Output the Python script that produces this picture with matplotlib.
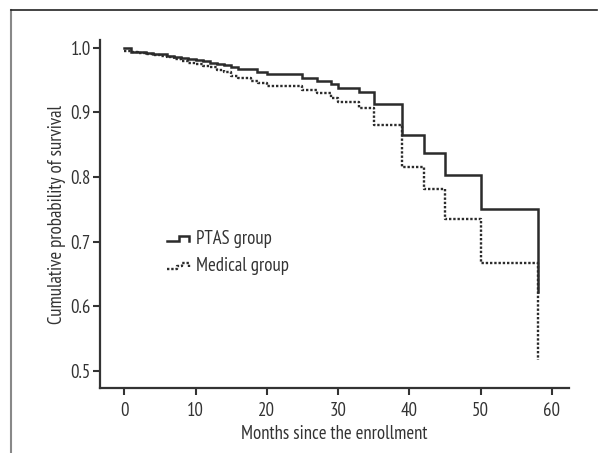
import matplotlib
matplotlib.use("Agg")
import matplotlib.pyplot as plt
from matplotlib.lines import Line2D

plt.rcParams['font.family'] = ['PT Sans Narrow', 'DejaVu Sans']

# Data (Kaplan-Meier step curves)
ptas_t = [0, 1, 2, 3, 4, 5, 6, 7, 8, 9, 10, 11, 12, 13, 14, 15, 16, 18.6, 20,
          25, 27, 29, 30, 33, 35, 39, 42, 45, 50, 58]
ptas_s = [1.0, 0.994, 0.993, 0.992, 0.991, 0.990, 0.988, 0.986, 0.984, 0.983,
          0.981, 0.979, 0.977, 0.975, 0.973, 0.971, 0.967, 0.963, 0.959,
          0.953, 0.949, 0.944, 0.938, 0.931, 0.913, 0.865, 0.838, 0.804, 0.750, 0.622]

med_t = [0, 1, 2, 3, 4, 5, 6, 7, 8, 9, 10, 11, 12, 13, 14, 15, 16, 17.8, 18.8, 20,
         25, 27, 29, 30, 33, 35, 39, 42, 45, 50, 58]
med_s = [0.995, 0.993, 0.992, 0.990, 0.989, 0.987, 0.985, 0.982, 0.980, 0.977,
         0.975, 0.972, 0.970, 0.966, 0.962, 0.956, 0.953, 0.949, 0.946, 0.941,
         0.935, 0.930, 0.923, 0.916, 0.907, 0.880, 0.816, 0.781, 0.735, 0.667, 0.518]

xticks = [0, 10, 20, 30, 40, 50, 60]
yticks = [0.5, 0.6, 0.7, 0.8, 0.9, 1.0]
labels = ["PTAS group", "Medical group"]

W, H = 606, 453
fig = plt.figure(figsize=(W / 100, H / 100), dpi=100)
ax = fig.add_axes([100 / W, 1 - 388 / H, 469 / W, 348 / H])

col = '#2b2b2b'
tcol = '#333333'
fs = 13.5
ax.plot(ptas_t, ptas_s, drawstyle='steps-post', color=col, lw=1.8, solid_joinstyle='miter')
ax.plot(med_t, med_s, drawstyle='steps-post', color=col, lw=1.7, linestyle=(0, (1, 0.8)))

ax.set_xlim(-3.4, 62.4)
ax.set_ylim(0.474, 1.012)
ax.set_xticks(xticks)
ax.set_xticklabels([str(v) for v in xticks])
ax.set_yticks(yticks)
ax.set_yticklabels([f"{v:.1f}" for v in yticks])

for s in ['top', 'right']:
    ax.spines[s].set_visible(False)
for s in ['left', 'bottom']:
    ax.spines[s].set_linewidth(1.6)
    ax.spines[s].set_color(tcol)
ax.tick_params(direction='out', length=5, width=1.5, color=tcol,
               labelsize=fs, labelcolor=tcol)
ax.tick_params(axis='x', pad=5)
ax.tick_params(axis='y', pad=1.5)

ax.set_xlabel("Months since the enrollment", fontsize=fs, color=tcol, labelpad=4)
ax.set_ylabel("Cumulative probability of survival", fontsize=fs, color=tcol, labelpad=3)

# Custom legend with step-shaped handles (axes fraction coords)
def fx(px):
    return (px - 100) / 469
def fy(py):
    return (388 - py) / 348

hx1 = [fx(v) for v in [167, 179, 179, 189, 189]]
hy1 = [fy(v) for v in [241, 241, 236, 236, 241]]
ax.add_line(Line2D(hx1, hy1, transform=ax.transAxes, color=col, lw=1.8,
                   solid_joinstyle='miter'))
hx2 = [fx(v) for v in [167, 177, 177, 182, 182, 189, 189]]
hy2 = [fy(v) for v in [269, 269, 265.5, 265.5, 263, 263, 267]]
ax.add_line(Line2D(hx2, hy2, transform=ax.transAxes, color=col, lw=1.7, linestyle=(0, (1, 0.8))))
ax.text(fx(196), fy(239), labels[0], transform=ax.transAxes, fontsize=fs,
        color=tcol, va='center', ha='left')
ax.text(fx(196), fy(266), labels[1], transform=ax.transAxes, fontsize=fs,
        color=tcol, va='center', ha='left')

# page frame
fig.add_artist(Line2D([11 / W, 11 / W], [0, 1 - 10 / H], transform=fig.transFigure,
                      color='#888888', lw=1.5))
fig.add_artist(Line2D([11 / W, 597 / W], [1 - 10 / H, 1 - 10 / H], transform=fig.transFigure,
                      color='#222222', lw=1.2))

fig.savefig("out.png", dpi=100)
